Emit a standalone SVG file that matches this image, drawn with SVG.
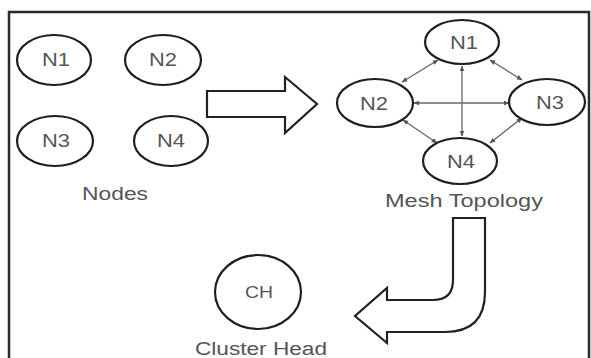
<svg xmlns="http://www.w3.org/2000/svg" width="591" height="358" viewBox="0 0 591 358">
<style>
.n{fill:none;stroke:#1e1e1e;stroke-width:2.2}
.t{font-family:"Liberation Sans",Arial,sans-serif;font-size:18px;fill:#555;text-anchor:middle}
.e{stroke:#666;stroke-width:1.3;fill:none;marker-start:url(#a);marker-end:url(#a)}
.b{fill:#fff;stroke:#222;stroke-width:2.2;stroke-linejoin:miter}
</style>
<defs>
<marker id="a" viewBox="0 0 10 10" refX="9" refY="5" markerWidth="6" markerHeight="6" orient="auto-start-reverse" markerUnits="userSpaceOnUse">
<path d="M0,1 L10,5 L0,9 Z" fill="#555"/>
</marker>
</defs>
<rect x="0" y="0" width="591" height="358" fill="#fff"/>
<path d="M9,360 L9,12 L589,12 L589,360" fill="none" stroke="#2a2a2a" stroke-width="2.5"/>

<g id="left-N1"><ellipse class="n" cx="54" cy="60" rx="37" ry="25"/><text class="t" x="56" y="66" textLength="28" lengthAdjust="spacingAndGlyphs">N1</text></g>
<g id="left-N2"><ellipse class="n" cx="163" cy="60" rx="38" ry="25"/><text class="t" x="163" y="66" textLength="28" lengthAdjust="spacingAndGlyphs">N2</text></g>
<g id="left-N3"><ellipse class="n" cx="55" cy="141" rx="38" ry="25"/><text class="t" x="56" y="147" textLength="28" lengthAdjust="spacingAndGlyphs">N3</text></g>
<g id="left-N4"><ellipse class="n" cx="171" cy="141" rx="37" ry="25"/><text class="t" x="171" y="147" textLength="28" lengthAdjust="spacingAndGlyphs">N4</text></g>
<text class="t" x="115" y="200" textLength="66" lengthAdjust="spacingAndGlyphs">Nodes</text>

<g id="arrow1"><path class="b" d="M207,91 L285,91 L285,77 L317,104 L285,133 L285,117 L207,117 Z"/></g>

<g id="connectors">
<line class="e" x1="438" y1="60" x2="402" y2="82"/>
<line class="e" x1="490" y1="60" x2="522" y2="80"/>
<line class="e" x1="462" y1="66" x2="462" y2="136"/>
<line class="e" x1="414" y1="103" x2="509" y2="103"/>
<line class="e" x1="403" y1="120" x2="437" y2="143"/>
<line class="e" x1="522" y1="118" x2="490" y2="143"/>
</g>

<g id="mesh-N1"><ellipse class="n" cx="462" cy="42" rx="37" ry="22"/><text class="t" x="464" y="49" textLength="28" lengthAdjust="spacingAndGlyphs">N1</text></g>
<g id="mesh-N2"><ellipse class="n" cx="375" cy="103" rx="38" ry="24"/><text class="t" x="374" y="110" textLength="28" lengthAdjust="spacingAndGlyphs">N2</text></g>
<g id="mesh-N3"><ellipse class="n" cx="547" cy="102" rx="38" ry="23"/><text class="t" x="550" y="109" textLength="28" lengthAdjust="spacingAndGlyphs">N3</text></g>
<g id="mesh-N4"><ellipse class="n" cx="460" cy="161" rx="37" ry="23"/><text class="t" x="461" y="168" textLength="28" lengthAdjust="spacingAndGlyphs">N4</text></g>
<text class="t" x="464" y="207" textLength="158" lengthAdjust="spacingAndGlyphs">Mesh Topology</text>

<g id="arrow2"><path class="b" d="M453,218 L485,218 L485,292 Q485,332 445,332 L387,332 L387,343 L355,316 L387,288 L387,300 L433,300 Q453,300 453,280 Z"/></g>

<g id="CH"><ellipse class="n" cx="258" cy="292" rx="43" ry="37"/><text class="t" x="259" y="298" font-size="16" textLength="28" lengthAdjust="spacingAndGlyphs" style="font-size:16px">CH</text></g>
<text class="t" x="261" y="355" textLength="132" lengthAdjust="spacingAndGlyphs">Cluster Head</text>
</svg>
